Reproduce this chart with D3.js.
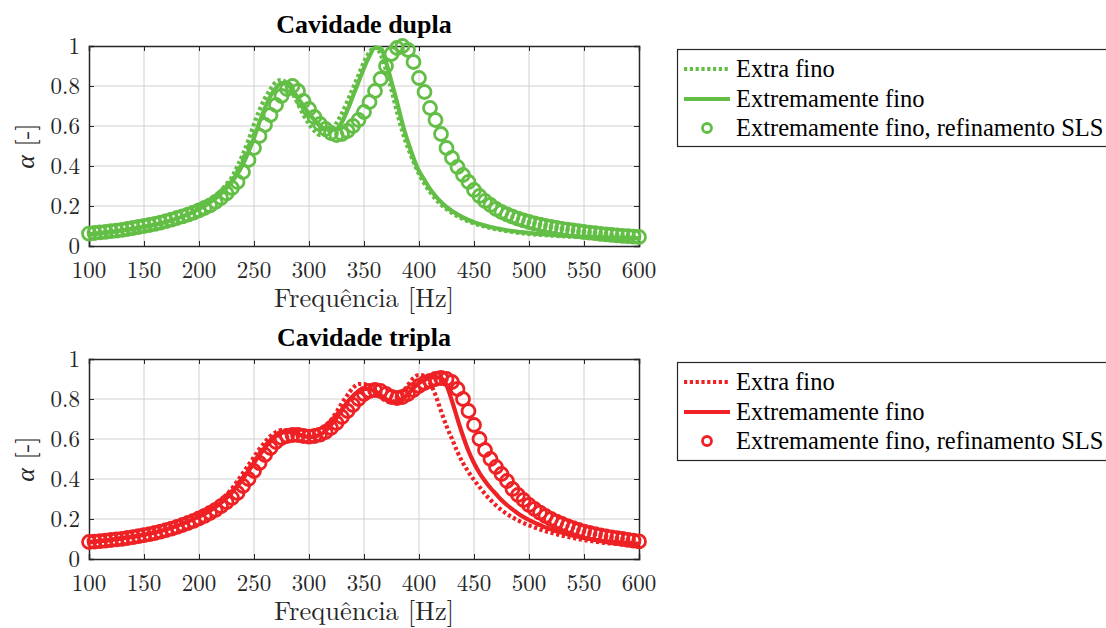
<!DOCTYPE html>
<html>
<head>
<meta charset="utf-8">
<script src="https://cdn.jsdelivr.net/npm/d3@7"></script>
<style>
  html, body { margin: 0; padding: 0; background: #ffffff; }
  svg { display: block; }
</style>
</head>
<body>
<svg id="chart" width="1106" height="628"></svg>
<script>
// ---------------- DATA ----------------
const freq = [100,105,110,115,120,125,130,135,140,145,150,155,160,165,170,175,180,185,190,195,
  200,205,210,215,220,225,230,235,240,245,250,255,260,265,270,275,280,285,290,295,
  300,305,310,315,320,325,330,335,340,345,350,355,360,365,370,375,380,385,390,395,
  400,405,410,415,420,425,430,435,440,445,450,455,460,465,470,475,480,485,490,495,
  500,505,510,515,520,525,530,535,540,545,550,555,560,565,570,575,580,585,590,595,600];

const xTicks = [100,150,200,250,300,350,400,450,500,550,600];
const yTicks = [0,0.2,0.4,0.6,0.8,1];
const yTickLabels = ["0","0.2","0.4","0.6","0.8","1"];
const seriesNames = ["Extra fino","Extremamente fino","Extremamente fino, refinamento SLS"];
const panelTitles = ["Cavidade dupla","Cavidade tripla"];
const xLabel = "Frequência [Hz]";

// Cavidade dupla
const duplaExtraFino = [
  .058,.061,.064,.067,.070,.074,.078,.082,.086,.091,.096,.101,.107,.114,.121,.129,.138,.148,.160,.174,
  .190,.207,.227,.250,.277,.310,.345,.400,.460,.530,.610,.680,.740,.785,.820,.830,.810,.765,.710,.655,
  .610,.575,.555,.555,.575,.615,.665,.725,.790,.855,.920,.970,.995,.960,.880,.780,.670,.570,.490,.420,
  .360,.310,.270,.235,.207,.184,.165,.149,.135,.123,.113,.104,.097,.090,.084,.079,.074,.070,.066,.063,
  .060,.058,.056,.054,.052,.050,.049,.047,.046,.045,.044,.043,.042,.041,.040,.039,.038,.038,.037,.036,.036];
const duplaExtremamente = [
  .057,.060,.063,.066,.069,.073,.077,.081,.085,.090,.095,.100,.106,.113,.120,.128,.137,.147,.158,.171,
  .185,.200,.218,.238,.262,.290,.322,.360,.410,.470,.540,.620,.690,.750,.790,.815,.810,.780,.740,.700,
  .660,.630,.600,.585,.580,.585,.620,.680,.750,.820,.890,.950,.990,.990,.920,.820,.720,.610,.520,.440,
  .375,.330,.285,.250,.220,.195,.175,.158,.143,.130,.119,.110,.102,.095,.089,.084,.079,.075,.071,.068,
  .065,.062,.060,.058,.056,.054,.052,.051,.049,.048,.047,.046,.045,.044,.043,.042,.041,.041,.040,.040,.039];
const duplaSLS = [
  .062,.065,.068,.071,.074,.077,.081,.085,.090,.095,.100,.105,.111,.117,.124,.132,.140,.148,.157,.167,
  .178,.190,.203,.220,.240,.263,.290,.320,.370,.430,.490,.550,.605,.655,.705,.750,.785,.800,.775,.725,
  .685,.645,.610,.585,.565,.555,.560,.575,.600,.630,.670,.720,.775,.835,.900,.960,.990,1.00,.980,.920,
  .840,.770,.690,.630,.560,.490,.440,.395,.355,.320,.280,.250,.225,.205,.185,.170,.158,.147,.137,.128,
  .120,.113,.107,.101,.096,.091,.086,.082,.078,.074,.070,.067,.064,.061,.058,.056,.053,.051,.049,.047,.045];

// Cavidade tripla
const triplaExtraFino = [
  .085,.088,.091,.094,.097,.101,.105,.109,.113,.118,.123,.129,.136,.143,.151,.160,.170,.181,.193,.206,
  .220,.235,.252,.272,.295,.322,.353,.390,.430,.470,.510,.550,.585,.615,.635,.645,.645,.640,.630,.620,
  .615,.620,.635,.660,.695,.735,.780,.820,.855,.875,.875,.860,.835,.810,.790,.785,.800,.830,.870,.905,
  .920,.915,.880,.820,.740,.665,.600,.535,.480,.435,.395,.360,.325,.295,.268,.245,.225,.208,.193,.180,
  .168,.158,.148,.139,.131,.124,.117,.111,.105,.100,.095,.091,.087,.083,.080,.077,.075,.073,.071,.069,.067];
const triplaExtremamente = [
  .083,.086,.089,.092,.095,.099,.103,.107,.111,.116,.121,.127,.133,.140,.148,.156,.166,.176,.187,.199,
  .212,.226,.242,.260,.281,.305,.333,.365,.400,.440,.480,.520,.555,.590,.615,.630,.635,.632,.625,.615,
  .610,.612,.622,.640,.670,.705,.745,.785,.815,.840,.850,.850,.840,.820,.800,.785,.785,.800,.825,.855,
  .880,.895,.905,.910,.905,.870,.790,.700,.615,.540,.480,.430,.390,.355,.325,.295,.270,.248,.228,.210,
  .195,.182,.170,.158,.148,.139,.131,.124,.117,.111,.105,.100,.096,.092,.089,.086,.084,.082,.080,.078,.076];
const triplaSLS = [
  .085,.087,.089,.092,.095,.098,.101,.105,.109,.114,.119,.124,.130,.137,.144,.152,.161,.170,.180,.191,
  .203,.216,.230,.246,.264,.284,.306,.330,.365,.400,.440,.480,.520,.555,.585,.605,.615,.620,.620,.615,
  .612,.615,.622,.635,.655,.680,.710,.740,.770,.800,.825,.840,.845,.840,.825,.810,.805,.810,.825,.845,
  .865,.880,.890,.900,.905,.900,.885,.850,.800,.740,.670,.600,.545,.500,.460,.425,.390,.350,.320,.295,
  .270,.250,.232,.215,.200,.187,.175,.164,.154,.145,.137,.130,.124,.118,.113,.108,.104,.100,.096,.092,.088];

const panelColors = ["#63be46", "#ee2124"];

// ---------------- DRAW ----------------
const LATEX = "Latin Modern Roman";
const TIMES = "Liberation Serif";
const svg = d3.select("#chart");
svg.append("rect").attr("width",1106).attr("height",628).attr("fill","#fff");

const panels = [
  { top: 46, bottom: 246, title: panelTitles[0], color: panelColors[0],
    series: [duplaExtraFino, duplaExtremamente, duplaSLS], legendTop: 49, legendBottom: 146 },
  { top: 359, bottom: 559, title: panelTitles[1], color: panelColors[1],
    series: [triplaExtraFino, triplaExtremamente, triplaSLS], legendTop: 362, legendBottom: 460 }
];

const left = 89, right = 639;
const LW = 4.2, DASH = "3.2,2.6";

panels.forEach((p) => {
  const g = svg.append("g");
  const x = d3.scaleLinear().domain([100, 600]).range([left, right]);
  const y = d3.scaleLinear().domain([0, 1]).range([p.bottom, p.top]);

  // grid
  g.append("g").selectAll("line").data(xTicks.slice(1, -1)).join("line")
    .attr("x1", d => x(d)).attr("x2", d => x(d))
    .attr("y1", p.top).attr("y2", p.bottom)
    .attr("stroke", "#d0d0d0").attr("stroke-width", 1);
  g.append("g").selectAll("line").data(yTicks.slice(1, -1)).join("line")
    .attr("x1", left).attr("x2", right)
    .attr("y1", d => y(d)).attr("y2", d => y(d))
    .attr("stroke", "#d0d0d0").attr("stroke-width", 1);

  // axes (ticks inward, box)
  const axB = d3.axisBottom(x).tickValues(xTicks).tickSize(-5).tickFormat("");
  const axT = d3.axisTop(x).tickValues(xTicks).tickSize(-5).tickFormat("");
  const axL = d3.axisLeft(y).tickValues(yTicks).tickSize(-5).tickFormat("");
  const axR = d3.axisRight(y).tickValues(yTicks).tickSize(-5).tickFormat("");
  [[axB, `translate(0,${p.bottom})`], [axT, `translate(0,${p.top})`],
   [axL, `translate(${left},0)`], [axR, `translate(${right},0)`]].forEach(([ax, tr]) => {
    const a = g.append("g").attr("transform", tr).call(ax);
    a.selectAll("path.domain").attr("stroke", "#262626").attr("stroke-width", 1.5);
    a.selectAll(".tick line").attr("stroke", "#262626").attr("stroke-width", 1);
  });

  // tick labels
  g.append("g").selectAll("text").data(xTicks).join("text")
    .attr("font-family", LATEX)
    .attr("x", d => x(d)).attr("y", p.bottom + 32).attr("fill", "#262626")
    .attr("text-anchor", "middle").attr("font-size", 23).text(d => d);
  g.append("g").selectAll("text").data(yTicks).join("text")
    .attr("font-family", LATEX)
    .attr("x", 80).attr("y", d => y(d) + 8).attr("fill", "#262626")
    .attr("text-anchor", "end").attr("font-size", 23).text((d, i) => yTickLabels[i]);

  // axis labels
  g.append("text").attr("font-family", LATEX)
    .attr("x", (left + right) / 2).attr("y", p.bottom + 61)
    .attr("fill", "#262626").attr("text-anchor", "middle").attr("font-size", 26.5).text(xLabel);
  const yl = g.append("text").attr("font-family", LATEX)
    .attr("transform", `translate(34,${(p.top + p.bottom) / 2}) rotate(-90)`)
    .attr("fill", "#262626").attr("text-anchor", "middle").attr("font-size", 26);
  yl.append("tspan").attr("font-style", "italic").text("α");
  yl.append("tspan").text(" [-]");

  // title
  g.append("text").attr("font-family", TIMES)
    .attr("x", (left + right) / 2).attr("y", p.top - 13)
    .attr("text-anchor", "middle").attr("font-size", 26).attr("font-weight", "bold")
    .attr("fill", "#000").text(p.title);

  // data
  const plot = g.append("g");
  const line = d3.line().x((d, i) => x(freq[i])).y(d => y(d)).curve(d3.curveMonotoneX);
  plot.append("path").datum(p.series[0]).attr("d", line)
    .attr("fill", "none").attr("stroke", p.color).attr("stroke-width", LW)
    .attr("stroke-dasharray", DASH);
  plot.append("path").datum(p.series[1]).attr("d", line)
    .attr("fill", "none").attr("stroke", p.color).attr("stroke-width", LW);
  plot.append("g").selectAll("circle").data(p.series[2]).join("circle")
    .attr("cx", (d, i) => x(freq[i])).attr("cy", d => y(d)).attr("r", 6.5)
    .attr("fill", "none").attr("stroke", p.color).attr("stroke-width", 2.8);

  // legend
  const lg = svg.append("g");
  lg.append("rect").attr("x", 677.5).attr("y", p.legendTop + 0.5)
    .attr("width", 440).attr("height", p.legendBottom - p.legendTop)
    .attr("fill", "#fff").attr("stroke", "#262626").attr("stroke-width", 1.2);
  const rowY = [p.legendTop + 20, p.legendTop + 50, p.legendTop + 79];
  lg.append("line").attr("x1", 684).attr("x2", 730).attr("y1", rowY[0]).attr("y2", rowY[0])
    .attr("stroke", p.color).attr("stroke-width", LW).attr("stroke-dasharray", DASH);
  lg.append("line").attr("x1", 684).attr("x2", 730).attr("y1", rowY[1]).attr("y2", rowY[1])
    .attr("stroke", p.color).attr("stroke-width", LW);
  lg.append("circle").attr("cx", 707).attr("cy", rowY[2]).attr("r", 4.5)
    .attr("fill", "none").attr("stroke", p.color).attr("stroke-width", 2.8);
  seriesNames.forEach((n, i) => {
    lg.append("text").attr("font-family", TIMES).attr("x", 736).attr("y", rowY[i] + 8)
      .attr("font-size", 24.5).attr("fill", "#000").text(n);
  });
});
</script>
</body>
</html>
